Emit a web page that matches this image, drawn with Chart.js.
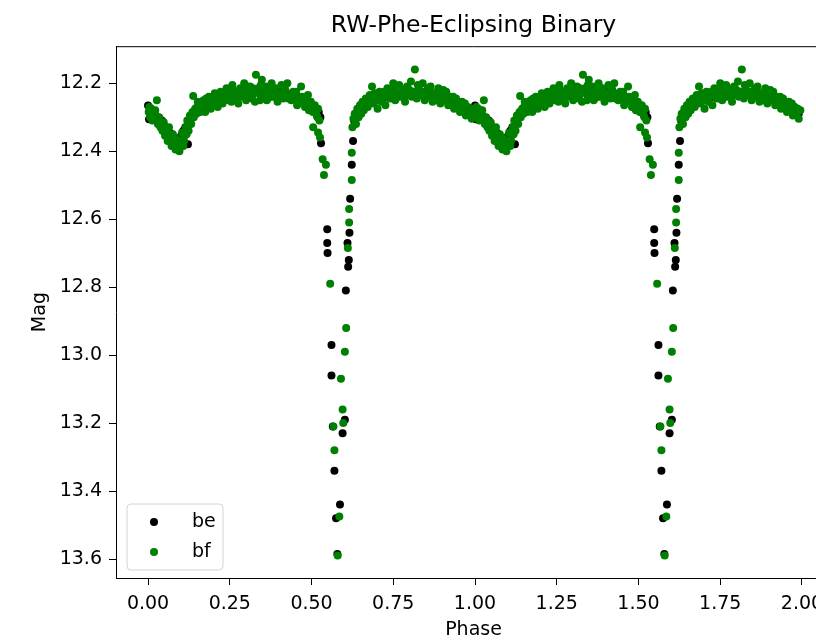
<!DOCTYPE html>
<html lang="en">
<head>
<meta charset="utf-8" />
<title>RW-Phe-Eclipsing Binary</title>
<script src="https://cdn.jsdelivr.net/npm/chart.js"></script>
<style>
  html, body { margin: 0; padding: 0; background: #fff; overflow: hidden; }
  #wrap { width: 816px; height: 642px; overflow: hidden; }
</style>
</head>
<body>
<div id="wrap"><canvas id="lc" width="900" height="642"></canvas></div>
<script>
// one folded cycle, [phase, mag]; the plot shows it twice (phase and phase + 1)
const beCurve = [
  [0.000,12.266],[0.003,12.306],[0.008,12.280],[0.013,12.290],[0.018,12.295],[0.024,12.300],[0.030,12.305],[0.036,12.315],
  [0.042,12.310],[0.048,12.325],[0.054,12.330],[0.060,12.335],[0.066,12.345],[0.072,12.350],[0.078,12.360],[0.084,12.365],
  [0.090,12.370],[0.096,12.360],[0.102,12.355],[0.108,12.340],[0.114,12.330],[0.122,12.380],[0.126,12.315],[0.132,12.300],
  [0.138,12.290],[0.145,12.285],[0.152,12.275],[0.160,12.265],[0.168,12.270],[0.176,12.262],[0.184,12.258],[0.192,12.260],
  [0.200,12.255],[0.210,12.250],[0.220,12.252],[0.230,12.245],[0.240,12.245],[0.250,12.240],[0.260,12.238],[0.270,12.240],
  [0.280,12.232],[0.290,12.235],[0.300,12.230],[0.310,12.228],[0.320,12.232],[0.330,12.225],[0.340,12.228],[0.350,12.222],
  [0.360,12.225],[0.370,12.220],[0.380,12.220],[0.390,12.228],[0.400,12.225],[0.410,12.222],[0.420,12.230],[0.430,12.232],
  [0.440,12.238],[0.450,12.240],[0.460,12.245],[0.470,12.250],[0.478,12.255],[0.486,12.258],[0.494,12.262],[0.502,12.265],
  [0.510,12.270],[0.517,12.275],[0.522,12.285],[0.527,12.300],[0.529,12.377],
  [0.630,12.310],[0.634,12.295],[0.640,12.285],[0.648,12.278],[0.656,12.270],[0.664,12.265],[0.672,12.262],[0.680,12.258],
  [0.690,12.255],[0.700,12.250],[0.710,12.248],[0.720,12.242],[0.730,12.240],[0.740,12.238],[0.750,12.235],[0.760,12.232],
  [0.770,12.230],[0.780,12.228],[0.790,12.225],[0.800,12.222],[0.810,12.225],[0.820,12.228],[0.830,12.226],[0.840,12.230],
  [0.850,12.232],[0.860,12.235],[0.870,12.232],[0.880,12.238],[0.890,12.235],[0.900,12.242],[0.910,12.245],[0.920,12.250],
  [0.930,12.255],[0.940,12.258],[0.950,12.262],[0.960,12.268],[0.970,12.272],[0.980,12.280],[0.990,12.290]
];
const beEclipse = [
  [0.548,12.63],[0.548,12.67],[0.549,12.70],[0.561,12.97],[0.561,13.06],[0.565,13.21],[0.570,13.34],[0.575,13.48],
  [0.579,13.585],[0.587,13.44],[0.595,13.23],[0.602,13.19],[0.605,12.81],[0.610,12.67],[0.612,12.74],[0.614,12.72],
  [0.616,12.64],[0.618,12.54],[0.623,12.44],[0.627,12.37]
];
const bfCurve = [
  [0.002,12.285],[0.006,12.300],[0.010,12.275],[0.016,12.290],[0.020,12.305],[0.024,12.295],[0.027,12.250],[0.030,12.320],
  [0.034,12.300],[0.038,12.330],[0.044,12.340],[0.048,12.315],[0.052,12.355],[0.056,12.345],[0.060,12.370],[0.064,12.330],
  [0.068,12.360],[0.072,12.385],[0.076,12.350],[0.080,12.375],[0.084,12.395],[0.088,12.365],[0.092,12.380],[0.096,12.400],
  [0.100,12.370],[0.104,12.345],[0.108,12.385],[0.112,12.355],[0.116,12.330],[0.120,12.310],[0.124,12.340],[0.128,12.295],
  [0.132,12.320],[0.136,12.285],[0.138,12.238],[0.140,12.300],[0.144,12.275],[0.148,12.290],[0.152,12.255],[0.156,12.280],
  [0.165,12.270],[0.170,12.250],[0.175,12.285],[0.180,12.260],[0.186,12.240],[0.192,12.275],[0.198,12.255],[0.204,12.230],
  [0.210,12.265],[0.216,12.245],[0.222,12.225],[0.228,12.260],[0.234,12.240],[0.240,12.215],[0.246,12.250],[0.252,12.230],
  [0.258,12.205],[0.264,12.245],[0.270,12.225],[0.276,12.260],[0.282,12.215],[0.288,12.240],[0.294,12.200],[0.300,12.250],
  [0.306,12.225],[0.312,12.210],[0.318,12.245],[0.324,12.230],[0.330,12.175],[0.336,12.215],[0.342,12.250],[0.348,12.190],
  [0.354,12.235],[0.360,12.210],[0.366,12.245],[0.372,12.225],[0.378,12.200],[0.384,12.240],[0.390,12.215],[0.396,12.255],
  [0.402,12.230],[0.408,12.205],[0.414,12.245],[0.420,12.220],[0.426,12.200],[0.432,12.235],[0.438,12.250],[0.444,12.225],
  [0.450,12.240],[0.456,12.265],[0.462,12.240],[0.468,12.210],[0.474,12.255],[0.480,12.270],[0.486,12.245],[0.492,12.280],
  [0.498,12.255],[0.504,12.285],[0.510,12.265],[0.516,12.295],[0.520,12.275],[0.524,12.310],
  [0.628,12.305],[0.632,12.290],[0.636,12.320],[0.640,12.275],[0.644,12.300],[0.648,12.265],[0.652,12.290],[0.656,12.255],
  [0.660,12.280],[0.666,12.245],[0.672,12.270],[0.678,12.235],[0.685,12.210],[0.690,12.260],[0.696,12.240],[0.702,12.275],
  [0.708,12.225],[0.714,12.255],[0.720,12.235],[0.726,12.265],[0.732,12.215],[0.738,12.245],[0.744,12.225],[0.750,12.200],
  [0.756,12.250],[0.762,12.230],[0.768,12.205],[0.774,12.240],[0.780,12.220],[0.786,12.255],[0.792,12.210],[0.798,12.235],
  [0.804,12.195],[0.810,12.225],[0.816,12.160],[0.822,12.245],[0.828,12.215],[0.834,12.235],[0.840,12.200],[0.846,12.250],
  [0.852,12.225],[0.858,12.240],[0.864,12.210],[0.870,12.255],[0.876,12.230],[0.882,12.245],[0.888,12.215],[0.894,12.260],
  [0.900,12.235],[0.906,12.250],[0.912,12.225],[0.918,12.265],[0.924,12.240],[0.930,12.255],[0.936,12.275],[0.942,12.245],
  [0.948,12.265],[0.954,12.285],[0.960,12.255],[0.966,12.280],[0.972,12.295],[0.978,12.270],[0.984,12.290],[0.990,12.305],
  [0.995,12.280]
];
// further bf points filling the band
const bfExtra = [
  [0.004,12.270],[0.013,12.310],[0.022,12.280],[0.041,12.325],[0.058,12.340],[0.070,12.375],[0.082,12.360],[0.094,12.390],
  [0.099,12.385],[0.110,12.370],[0.118,12.350],[0.130,12.305],[0.150,12.270],[0.160,12.285],[0.178,12.245],[0.189,12.265],
  [0.201,12.245],[0.213,12.270],[0.219,12.235],[0.231,12.250],[0.243,12.230],[0.255,12.255],[0.261,12.220],[0.273,12.240],
  [0.279,12.230],[0.291,12.225],[0.303,12.210],[0.309,12.240],[0.321,12.215],[0.327,12.255],[0.339,12.230],[0.345,12.205],
  [0.357,12.225],[0.363,12.250],[0.375,12.240],[0.381,12.215],[0.393,12.230],[0.399,12.245],[0.411,12.235],[0.417,12.210],
  [0.429,12.245],[0.441,12.235],[0.453,12.225],[0.459,12.250],[0.471,12.240],[0.483,12.260],[0.489,12.235],[0.501,12.270],
  [0.513,12.280],[0.518,12.300],
  [0.638,12.295],[0.650,12.280],[0.662,12.260],[0.669,12.255],[0.681,12.250],[0.693,12.230],[0.705,12.250],[0.717,12.240],
  [0.723,12.225],[0.735,12.230],[0.747,12.245],[0.753,12.220],[0.765,12.240],[0.777,12.225],[0.789,12.235],[0.795,12.215],
  [0.807,12.240],[0.819,12.230],[0.825,12.205],[0.837,12.225],[0.849,12.240],[0.855,12.215],[0.867,12.235],[0.879,12.250],
  [0.885,12.225],[0.897,12.245],[0.903,12.220],[0.915,12.240],[0.927,12.265],[0.933,12.240],[0.945,12.255],[0.957,12.270],
  [0.969,12.260],[0.981,12.285],[0.987,12.275]
];
const bfEclipse = [
  [0.505,12.330],[0.520,12.345],[0.526,12.360],[0.534,12.424],[0.544,12.440],[0.538,12.470],[0.557,12.79],[0.567,13.21],
  [0.570,13.28],[0.585,13.475],[0.580,13.59],[0.590,13.07],[0.595,13.16],[0.597,13.20],[0.602,12.99],[0.606,12.92],
  [0.611,12.685],[0.615,12.61],[0.615,12.57],[0.623,12.485],[0.623,12.405],[0.625,12.33]
];
const xTicks = [0, 0.25, 0.5, 0.75, 1.0, 1.25, 1.5, 1.75, 2.0];
const yTicks = [12.2, 12.4, 12.6, 12.8, 13.0, 13.2, 13.4, 13.6];

const FONT = '"DejaVu Sans", sans-serif';

function twoCycles(rows) {
  const pts = rows.map(r => ({ x: r[0], y: r[1] }));
  return pts.concat(rows.map(r => ({ x: r[0] + 1, y: r[1] })));
}

// top/right spines like matplotlib
const frame = {
  id: 'frame',
  afterDraw(chart) {
    const { ctx, chartArea: a } = chart;
    ctx.save();
    ctx.strokeStyle = '#000';
    ctx.lineWidth = 1;
    ctx.beginPath();
    ctx.moveTo(a.left, a.top + 0.5);
    ctx.lineTo(a.right, a.top + 0.5);
    ctx.lineTo(a.right, a.bottom);
    ctx.stroke();
    ctx.restore();
  }
};

const legendBox = {
  id: 'legendBox',
  afterDraw(chart) {
    const { ctx, chartArea: a } = chart;
    const x = a.left + 11, y = a.bottom - 74, w = 96, h = 66, r = 4;
    ctx.save();
    ctx.beginPath();
    ctx.moveTo(x + r, y);
    ctx.arcTo(x + w, y, x + w, y + h, r);
    ctx.arcTo(x + w, y + h, x, y + h, r);
    ctx.arcTo(x, y + h, x, y, r);
    ctx.arcTo(x, y, x + w, y, r);
    ctx.closePath();
    ctx.fillStyle = 'rgba(255,255,255,0.8)';
    ctx.fill();
    ctx.strokeStyle = '#d4d4d4';
    ctx.lineWidth = 1;
    ctx.stroke();
    ctx.font = '19px ' + FONT;
    ctx.textBaseline = 'middle';
    chart.data.datasets.forEach((ds, i) => {
      const cy = y + 18 + i * 30;
      ctx.fillStyle = ds.backgroundColor;
      ctx.beginPath();
      ctx.arc(x + 27, cy, 4, 0, Math.PI * 2);
      ctx.fill();
      ctx.fillStyle = '#000';
      ctx.fillText(ds.label, x + 65, cy);
    });
    ctx.restore();
  }
};

new Chart(document.getElementById('lc'), {
  type: 'scatter',
  data: {
    datasets: [
      { label: 'be', data: twoCycles(beCurve.concat(beEclipse)), backgroundColor: '#000000',
        borderWidth: 0, pointRadius: 4, pointHoverRadius: 4, order: 2 },
      { label: 'bf', data: twoCycles(bfCurve.concat(bfExtra, bfEclipse)), backgroundColor: '#008000',
        borderWidth: 0, pointRadius: 4, pointHoverRadius: 4, order: 1 }
    ]
  },
  options: {
    responsive: false,
    animation: false,
    devicePixelRatio: 1,
    events: [],
    layout: { padding: { left: 0, right: 69, top: 0, bottom: 0 } },
    plugins: {
      legend: { display: false },
      tooltip: { enabled: false },
      title: {
        display: true, text: 'RW-Phe-Eclipsing Binary', fullSize: false, color: '#000',
        font: { family: FONT, size: 23.5, weight: 'normal' }, padding: { top: 12, bottom: 6 }
      }
    },
    scales: {
      x: {
        type: 'linear', min: -0.098, max: 2.0887,
        afterBuildTicks: s => { s.ticks = xTicks.map(v => ({ value: v })); },
        afterFit: s => { s.height = 64; },
        grid: { drawOnChartArea: false, drawTicks: true, tickLength: 7, color: '#000' },
        border: { display: true, color: '#000', width: 1 },
        ticks: { color: '#000', font: { family: FONT, size: 19 }, padding: 8, maxRotation: 0, autoSkip: false,
                 callback: v => v.toFixed(2) },
        title: { display: true, text: 'Phase', color: '#000', font: { family: FONT, size: 19 },
                 padding: { top: 0, bottom: 1 } }
      },
      y: {
        type: 'linear', reverse: true, min: 12.0912, max: 13.6559,
        afterBuildTicks: s => { s.ticks = yTicks.map(v => ({ value: v })); },
        afterFit: s => { s.width = 116; },
        grid: { drawOnChartArea: false, drawTicks: true, tickLength: 7, color: '#000' },
        border: { display: true, color: '#000', width: 1 },
        ticks: { color: '#000', font: { family: FONT, size: 19 }, padding: 7, autoSkip: false,
                 callback: v => v.toFixed(1) },
        title: { display: true, text: 'Mag', color: '#000', font: { family: FONT, size: 19 },
                 padding: { top: 29, bottom: 0 } }
      }
    }
  },
  plugins: [frame, legendBox]
});
</script>
</body>
</html>
